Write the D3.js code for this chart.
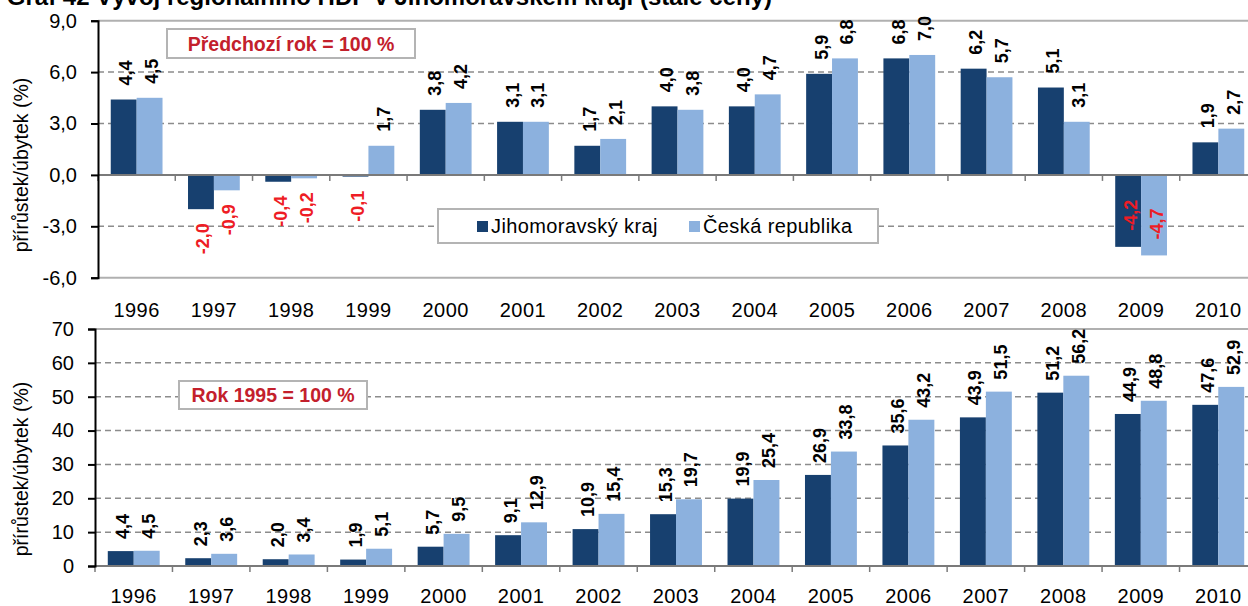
<!DOCTYPE html>
<html><head><meta charset="utf-8">
<script src="https://cdn.jsdelivr.net/npm/d3@7"></script>
<style>
body{margin:0;background:#fff;}
svg{display:block;font-family:Arial,"Liberation Sans",sans-serif;}
</style></head>
<body><svg id="c" width="1248" height="606"></svg>
<script>
const years = ["1996","1997","1998","1999","2000","2001","2002","2003","2004","2005","2006","2007","2008","2009","2010"];
const seriesNames = ["Jihomoravský kraj","Česká republika"];
const prevJMK = [4.4,-2.0,-0.4,-0.1,3.8,3.1,1.7,4.0,4.0,5.9,6.8,6.2,5.1,-4.2,1.9];
const prevCR  = [4.5,-0.9,-0.2,1.7,4.2,3.1,2.1,3.8,4.7,6.8,7.0,5.7,3.1,-4.7,2.7];
const baseJMK = [4.4,2.3,2.0,1.9,5.7,9.1,10.9,15.3,19.9,26.9,35.6,43.9,51.2,44.9,47.6];
const baseCR  = [4.5,3.6,3.4,5.1,9.5,12.9,15.4,19.7,25.4,33.8,43.2,51.5,56.2,48.8,52.9];
const topTicks = [-6,-3,0,3,6,9];
const bottomTicks = [0,10,20,30,40,50,60,70];
const title = "Graf 42 Vývoj regionálního HDP v Jihomoravském kraji (stálé ceny)";
const yTitle = "přírůstek/úbytek (%)";
const note1 = "Předchozí rok = 100 %";
const note2 = "Rok 1995 = 100 %";

const colors = ["#17406f","#8cb1de"];
const loc = d3.formatLocale({decimal:",",thousands:" ",grouping:[3],currency:["",""],minus:"-"});
const f1 = loc.format(".1f");
const f0 = loc.format("d");

const svg = d3.select("#c");

svg.append("text").attr("x",772).attr("y",5).attr("text-anchor","end")
  .attr("font-weight","bold").attr("font-size",24).text(title);

function panel(o){
  const g = svg.append("g");
  const x = d3.scaleBand().domain(years).range([o.left,o.right]).paddingInner(0.33).paddingOuter(0.165);
  const xs = d3.scaleBand().domain([0,1]).range([0,x.bandwidth()]);
  const y = d3.scaleLinear().domain(o.domain).range([o.bottom,o.top]);
  // gridlines
  o.ticks.forEach(t=>{
    const edge = (t===o.domain[0]||t===o.domain[1]);
    if(t===0 && o.domain[0]<0) return;
    g.append("line").attr("x1",o.left).attr("x2",1260).attr("y1",y(t)).attr("y2",y(t))
      .attr("stroke",edge?"#b0b0b0":"#8c8c8c").attr("stroke-width",edge?2:1.5)
      .attr("stroke-dasharray",edge?null:"6,4");
  });
  // bars
  const data = [o.a,o.b];
  data.forEach((arr,si)=>{
    g.selectAll(null).data(arr).enter().append("rect")
      .attr("x",(d,i)=>x(years[i])+xs(si))
      .attr("width",xs.bandwidth())
      .attr("y",d=>Math.min(y(d),y(0)))
      .attr("height",d=>Math.abs(y(d)-y(0)))
      .attr("fill",colors[si]);
  });
  // zero axis
  g.append("line").attr("x1",o.left).attr("x2",1260).attr("y1",y(0)).attr("y2",y(0))
    .attr("stroke","#7a7a7a").attr("stroke-width",2);
  const bounds = years.map((yr,i)=>o.left + (i)*x.step());
  bounds.forEach(bx=>{
    g.append("line").attr("x1",bx).attr("x2",bx).attr("y1",y(0)).attr("y2",y(0)+6)
      .attr("stroke","#7a7a7a").attr("stroke-width",1.5);
  });
  // y axis
  const ax = g.append("g").attr("transform",`translate(${o.left},0)`)
    .call(d3.axisLeft(y).tickValues(o.ticks).tickSize(7).tickPadding(14).tickFormat(o.fmt));
  ax.select(".domain").attr("stroke","#000").attr("stroke-width",2);
  ax.selectAll(".tick line").attr("stroke","#000").attr("stroke-width",2);
  ax.selectAll("text").attr("font-size",20).attr("fill","#000").attr("font-family","Arial,'Liberation Sans',sans-serif");
  // x labels
  g.selectAll(null).data(years).enter().append("text")
    .attr("x",d=>x(d)+x.bandwidth()/2).attr("y",o.labelY)
    .attr("text-anchor","middle").attr("font-size",20).attr("letter-spacing",0.5).text(d=>d);
  // y title
  g.append("text").attr("transform",`translate(28,${o.titleY}) rotate(-90)`)
    .attr("text-anchor","middle").attr("font-size",19.5).text(yTitle);
  // data labels
  data.forEach((arr,si)=>{
    arr.forEach((d,i)=>{
      const cx = x(years[i])+xs(si)+xs.bandwidth()/2+2;
      let ya, anchor, col = d<0?"#ee1c25":"#000";
      if(d>=0){ ya = y(d)-o.gap; anchor="start"; }
      else {
        const yend = y(d);
        if(yend+o.gap+32 > o.bottom){ ya = yend-16; anchor="start"; }
        else { ya = yend+o.gap; anchor="end"; }
      }
      g.append("text").attr("transform",`translate(${cx},${ya}) rotate(-90)`)
        .attr("text-anchor",anchor).attr("dy","0.36em")
        .attr("font-weight","bold").attr("font-size",18).attr("fill",col)
        .text(f1(d));
    });
  });
  // note box
  g.append("rect").attr("x",o.note.x).attr("y",o.note.y).attr("width",o.note.w).attr("height",o.note.h)
    .attr("fill","#fff").attr("stroke","#b4b4b4").attr("stroke-width",2);
  g.append("text").attr("x",o.note.x+o.note.w/2).attr("y",o.note.y+o.note.h/2).attr("dy","0.36em")
    .attr("text-anchor","middle").attr("font-weight","bold").attr("font-size",19.5)
    .attr("fill","#c3202c").text(o.note.t);
  return {x,y};
}

panel({left:98,right:1257,top:20.7,bottom:277.7,domain:[-6,9],ticks:topTicks,fmt:f1,a:prevJMK,b:prevCR,
  labelY:317,titleY:165,gap:14,note:{x:167,y:29,w:248,h:29,t:note1}});
panel({left:95,right:1257,top:329,bottom:566,domain:[0,70],ticks:bottomTicks,fmt:f0,a:baseJMK,b:baseCR,
  labelY:603,titleY:469,gap:12,note:{x:179,y:381,w:188,h:28,t:note2}});

// legend
const lg = svg.append("g");
lg.append("rect").attr("x",438).attr("y",209).attr("width",440).attr("height",34)
  .attr("fill","#fff").attr("stroke","#b4b4b4").attr("stroke-width",2);
const lx = [477,689];
seriesNames.forEach((n,i)=>{
  lg.append("rect").attr("x",lx[i]).attr("y",221).attr("width",11).attr("height",11).attr("fill",colors[i]);
  lg.append("text").attr("x",lx[i]+14).attr("y",226).attr("dy","0.36em").attr("font-size",20).attr("letter-spacing",0.4).text(n);
});
</script></body></html>
